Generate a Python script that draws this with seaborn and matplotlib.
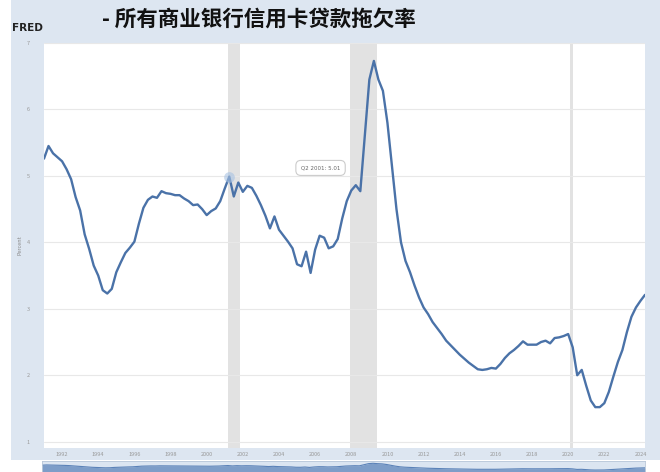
import numpy as np
import pandas as pd
import matplotlib
matplotlib.use("Agg")
import matplotlib.pyplot as plt
import seaborn as sns
from matplotlib.patches import Rectangle

# quarterly delinquency rate, 1991Q1 .. 2024Q2 (percent)
rate_1991_2000 = [5.26, 5.45, 5.34, 5.28, 5.22, 5.10, 4.95, 4.68, 4.48, 4.12,
                  3.90, 3.65, 3.50, 3.28, 3.23, 3.30, 3.55, 3.70, 3.84, 3.92,
                  4.01, 4.28, 4.52, 4.64, 4.69, 4.67, 4.77, 4.74, 4.73, 4.71,
                  4.71, 4.66, 4.62, 4.56, 4.57, 4.50, 4.41, 4.47, 4.51, 4.62]
rate_2001_2010 = [4.81, 4.99, 4.69, 4.90, 4.76, 4.85, 4.82, 4.70, 4.56, 4.40,
                  4.21, 4.39, 4.19, 4.10, 4.01, 3.91, 3.67, 3.64, 3.86, 3.54,
                  3.89, 4.10, 4.07, 3.91, 3.94, 4.05, 4.36, 4.62, 4.78, 4.86,
                  4.77, 5.61, 6.45, 6.73, 6.45, 6.28, 5.80, 5.15, 4.50, 4.00]
rate_2011_2020 = [3.72, 3.55, 3.35, 3.17, 3.02, 2.92, 2.80, 2.71, 2.62, 2.52,
                  2.45, 2.38, 2.31, 2.25, 2.19, 2.14, 2.09, 2.08, 2.09, 2.11,
                  2.10, 2.17, 2.26, 2.33, 2.38, 2.44, 2.51, 2.46, 2.46, 2.46,
                  2.50, 2.52, 2.48, 2.56, 2.57, 2.59, 2.62, 2.42, 2.00, 2.08]
rate_2021_2024 = [1.84, 1.62, 1.52, 1.52, 1.58, 1.75, 1.98, 2.20, 2.38, 2.65,
                  2.88, 3.02, 3.12, 3.21]

# recession periods (start, end) in decimal years
recessions = [(2001.17, 2001.83), (2007.92, 2009.42), (2020.08, 2020.25)]

x_ticks = list(range(1992, 2025, 2))
y_ticks = [1, 2, 3, 4, 5, 6, 7]

title = "- 所有商业银行信用卡贷款拖欠率"
tooltip = "Q2 2001: 5.01"

rate = rate_1991_2000 + rate_2001_2010 + rate_2011_2020 + rate_2021_2024
quarters = pd.period_range("1991Q1", periods=len(rate), freq="Q")
df = pd.DataFrame({"year": quarters.year + (quarters.quarter - 1) / 4,
                   "rate": rate})

sns.set_theme(style="white")
plt.rcParams["font.family"] = ["Noto Sans CJK SC", "DejaVu Sans"]

W, H = 660, 472
fig = plt.figure(figsize=(6.6, 4.72), dpi=100)
fig.patch.set_facecolor("white")

# light blue frame behind the chart
bg = fig.add_axes([0, 0, 1, 1], zorder=-5)
bg.set_xlim(0, W)
bg.set_ylim(H, 0)
bg.axis("off")
bg.add_patch(Rectangle((11, 0), W - 11, 460, color="#dde6f1", lw=0))

line_col = "#4a72a8"

# main plot
ax = fig.add_axes([44 / W, 1 - 448 / H, 601 / W, 405 / H])
ax.set_facecolor("white")
for a, b in recessions:
    ax.axvspan(a, b, color="#e2e2e2", lw=0, zorder=0)
for yv in y_ticks:
    ax.axhline(yv, color="#e8e8e8", lw=0.8, zorder=0)

sns.lineplot(data=df, x="year", y="rate", ax=ax, color=line_col, lw=1.7)

# highlighted point + tooltip
ax.scatter([2001.25], [4.99], s=60, color="#a9c3e3", alpha=0.6, lw=0, zorder=3)
ax.text(2006.3, 5.12, tooltip, fontsize=4, color="#666666", ha="center",
        va="center", family="DejaVu Sans",
        bbox=dict(boxstyle="round,pad=0.9", fc="white", ec="#cccccc", lw=0.8))

ax.set_xlim(1991.0, 2024.25)
ax.set_ylim(0.905, 6.95)
ax.set_xticks(x_ticks)
ax.set_xticklabels([str(t) for t in x_ticks])
ax.set_yticks(y_ticks)
ax.tick_params(axis="both", labelsize=4, colors="#999999", length=0)
ax.tick_params(axis="x", pad=3)
ax.tick_params(axis="y", pad=10)
ax.set_xlabel("")
ax.set_ylabel("Percent", fontsize=4, color="#888888", labelpad=3)
for s in ax.spines.values():
    s.set_visible(False)

# navigator strip at the bottom
nav = fig.add_axes([42 / W, 0, 603 / W, 11 / H])
nav.set_facecolor("#dbe5f1")
nav.fill_between(df["year"], df["rate"], 0, color="#7d9dc8", lw=0)
sns.lineplot(data=df, x="year", y="rate", ax=nav, color="#5b82b8", lw=0.8)
nav.set_xlim(1991.0, 2024.25)
nav.set_ylim(0, 8.5)
nav.set_xticks([])
nav.set_yticks([])
nav.set_xlabel("")
nav.set_ylabel("")
for s in nav.spines.values():
    s.set_color("#b8c6d8")
    s.set_linewidth(0.6)

# header
fig.text(12 / W, 1 - 28 / H, "FRED", fontsize=7.5, weight="bold",
         color="#222222", va="center", family="DejaVu Sans")
fig.text(102 / W, 1 - 19 / H, title, fontsize=15.5, weight="bold",
         color="#111111", va="center")

fig.savefig("out.png", dpi=100)
